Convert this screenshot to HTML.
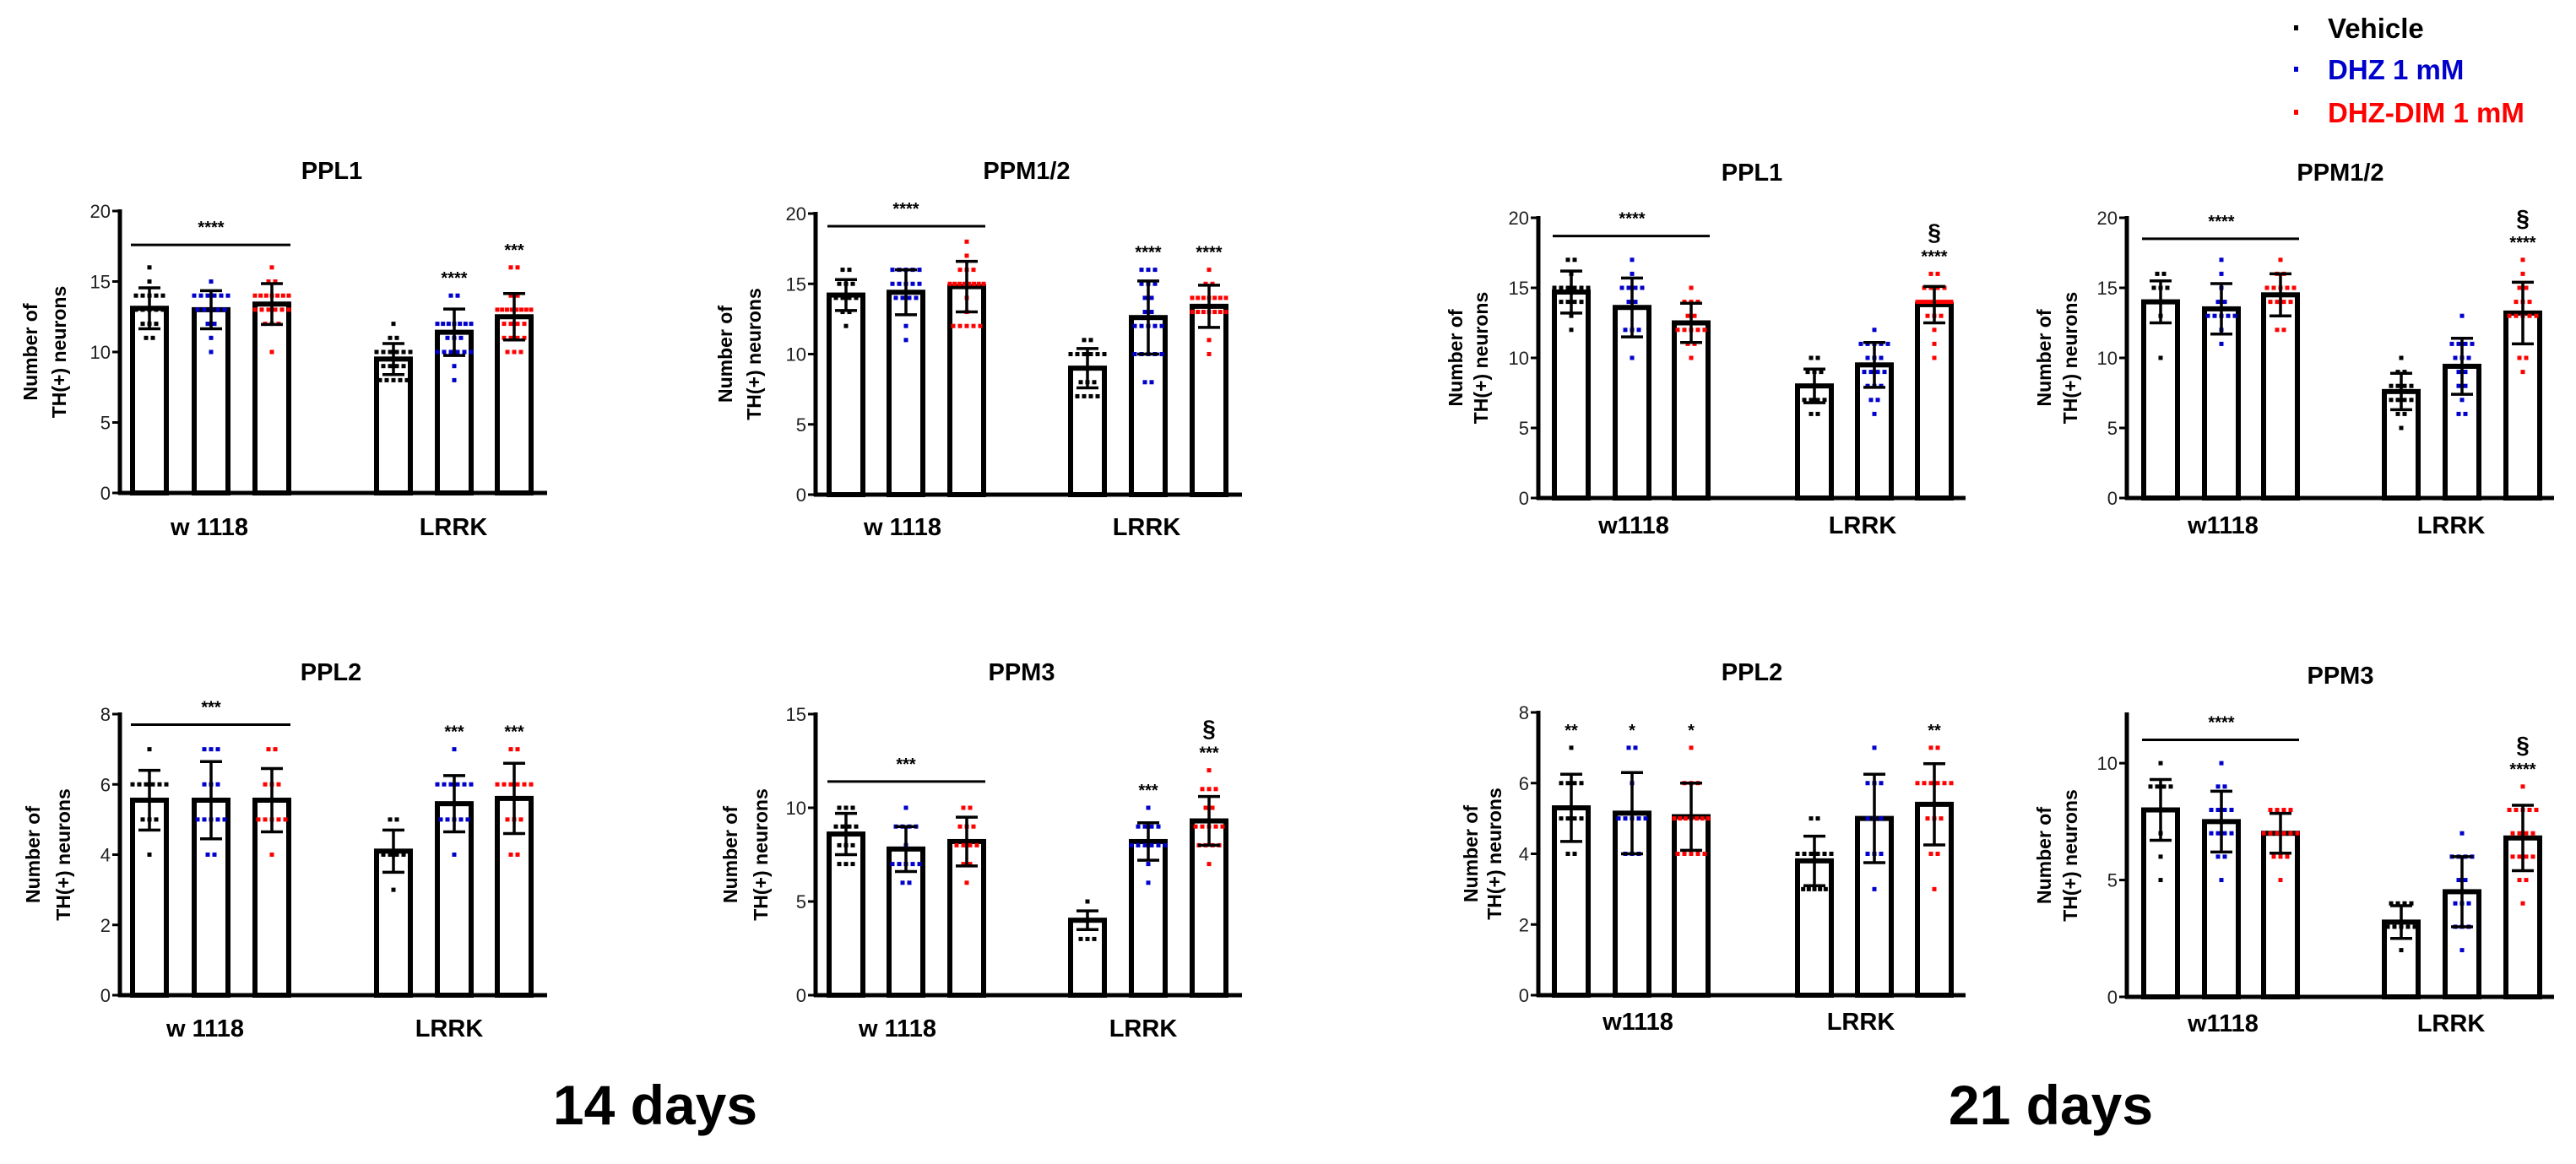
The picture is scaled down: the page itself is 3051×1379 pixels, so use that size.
<!DOCTYPE html>
<html><head><meta charset="utf-8"><style>
html,body{margin:0;padding:0;background:#fff;}
svg{display:block;font-family:"Liberation Sans",Arial,sans-serif;}
</style></head><body>
<svg id="fig" width="3051" height="1379" viewBox="0 0 3051 1379" xmlns="http://www.w3.org/2000/svg">
<rect width="3051" height="1379" fill="#fff"/>
<g font-weight="bold" font-size="33">
  <g><rect x="2717" y="30" width="5" height="6" fill="#000"/><text x="2757" y="45" fill="#000">Vehicle</text></g>
  <g><rect x="2717" y="79" width="5" height="6" fill="#0000cc"/><text x="2757" y="94" fill="#0000cc">DHZ 1 mM</text></g>
  <g><rect x="2717" y="130" width="5" height="6" fill="#ff0000"/><text x="2757" y="145" fill="#ff0000">DHZ-DIM 1 mM</text></g>
</g>
<text x="776" y="1332" text-anchor="middle" font-size="66" font-weight="bold">14 days</text>
<text x="2429" y="1332" text-anchor="middle" font-size="66" font-weight="bold">21 days</text>
</svg>
<script>
const groups = ["w 1118", "LRRK"];
const treatments = ["Vehicle", "DHZ 1 mM", "DHZ-DIM 1 mM"];
const colors = ["#000000", "#0000cc", "#ff0000"];

// 14 days PPL1
const a_means = [13.1, 13.0, 13.4, 9.5, 11.4, 12.5];
const a_sds = [1.45, 1.35, 1.45, 1.1, 1.65, 1.65];
const a_points = [[16,15,14,14,14,14,14,13,13,13,13,13,12,12,12,11,11],[15,14,14,14,14,14,14,13,13,13,13,13,12,12,11,10],[16,15,15,14,14,14,14,14,14,14,13,13,13,13,13,13,12,12,12,10],[12,11,11,10,10,10,10,10,10,9,9,9,9,9,9,8,8,8,8,8],[14,14,12,12,12,12,12,12,12,11,11,11,10,10,10,10,10,10,9,8],[16,16,14,14,13,13,13,13,13,13,13,13,12,12,12,12,11,11,11,11,10,10,10]];
const a_ticks = [0,5,10,15,20];
const a_stars = ["","","","","****","***"];
const a_sect = ["","","","","",""];
// 14 days PPM1/2
const b_means = [14.2, 14.4, 14.8, 9.0, 12.6, 13.4];
const b_sds = [1.1, 1.6, 1.8, 1.4, 2.6, 1.5];
const b_points = [[16,16,15,15,15,14,14,14,14,13,13,12],[16,16,16,16,16,15,15,15,15,15,14,14,14,14,12,11],[18,17,16,16,16,15,15,15,15,15,15,15,15,14,13,12,12,12,12,12],[11,11,10,10,10,10,10,10,9,8,8,8,7,7,7,7],[16,16,16,15,15,15,14,14,13,13,12,12,12,12,12,10,10,10,10,10,8,8],[16,15,15,14,14,14,14,14,14,14,13,13,13,13,13,13,13,11,10]];
const b_ticks = [0,5,10,15,20];
const b_stars = ["","","","","****","****"];
const b_sect = ["","","","","",""];
// 21 days PPL1
const c_means = [14.7, 13.6, 12.5, 8.0, 9.5, 13.8];
const c_sds = [1.5, 2.1, 1.4, 1.2, 1.6, 1.3];
const c_points = [[17,17,16,15,15,15,15,15,15,14,14,14,14,13,12],[17,16,15,15,15,15,14,14,12,12,12,10],[15,14,14,14,13,13,12,12,12,12,12,11,11,10],[10,10,9,9,9,8,8,8,8,8,8,7,7,7,7,6,6],[12,11,11,11,11,11,10,10,10,9,9,9,9,8,8,8,7,7,6],[16,16,15,15,15,15,14,14,14,14,14,14,14,14,14,13,13,13,12,11,10]];
const c_ticks = [0,5,10,15,20];
const c_stars = ["","","","","","****"];
const c_sect = ["","","","","","§"];
// 21 days PPM1/2
const d_means = [14.0, 13.5, 14.5, 7.6, 9.4, 13.2];
const d_sds = [1.5, 1.8, 1.5, 1.3, 2.0, 2.2];
const d_points = [[16,16,15,15,15,14,14,14,14,14,14,13,10],[17,16,15,14,14,13,13,13,13,13,12,11],[17,16,16,15,15,15,15,15,14,14,14,14,12,12],[10,9,9,8,8,8,8,7,7,7,7,6,6,5],[13,11,11,11,11,10,10,10,9,9,8,8,7,6,6],[17,16,15,15,14,14,14,13,13,13,13,13,10,10,9]];
const d_ticks = [0,5,10,15,20];
const d_stars = ["","","","","","****"];
const d_sect = ["","","","","","§"];
// 14 days PPL2
const e_means = [5.55, 5.55, 5.55, 4.1, 5.45, 5.6];
const e_sds = [0.85, 1.1, 0.9, 0.6, 0.8, 1.0];
const e_points = [[7,6,6,6,6,6,6,5,5,5,4],[7,7,7,6,6,6,5,5,5,5,5,4,4],[7,7,6,6,6,5,5,5,5,5,4],[5,5,4,4,4,4,4,4,3],[7,6,6,6,6,6,6,5,5,5,5,5,4],[7,7,6,6,6,6,6,6,5,5,5,4,4]];
const e_ticks = [0,2,4,6,8];
const e_stars = ["","","","","***","***"];
const e_sect = ["","","","","",""];
// 14 days PPM3
const f_means = [8.6, 7.8, 8.2, 4.0, 8.2, 9.3];
const f_sds = [1.1, 1.2, 1.3, 0.5, 1.0, 1.3];
const f_points = [[10,10,10,9,9,9,9,8,8,8,7,7,7],[10,9,9,9,9,8,7,7,7,7,7,6,6],[10,10,9,9,9,8,8,8,8,7,7,6],[5,4,4,4,4,4,4,3,3,3],[10,9,9,9,9,8,8,8,8,8,8,7,6],[12,11,11,11,10,10,9,9,9,9,9,8,8,8,8,7]];
const f_ticks = [0,5,10,15];
const f_stars = ["","","","","***","***"];
const f_sect = ["","","","","","§"];
// 21 days PPL2
const g_means = [5.3, 5.15, 5.05, 3.8, 5.0, 5.4];
const g_sds = [0.95, 1.15, 0.95, 0.7, 1.25, 1.15];
const g_points = [[7,6,6,6,6,5,5,5,5,4,4],[7,7,6,5,5,5,5,5,4,4,4],[7,6,6,6,5,5,5,5,5,5,5,4,4,4,4,4],[5,5,4,4,4,4,4,4,3,3,3,3,3,3,3],[7,6,6,6,5,5,5,4,4,4,3],[7,7,6,6,6,6,6,6,5,5,5,4,4,3]];
const g_ticks = [0,2,4,6,8];
const g_stars = ["**","*","*","","","**"];
const g_sect = ["","","","","",""];
// 21 days PPM3
const h_means = [8.0, 7.5, 7.0, 3.2, 4.5, 6.8];
const h_sds = [1.3, 1.3, 0.85, 0.7, 1.5, 1.4];
const h_points = [[10,9,9,9,9,8,8,8,8,8,8,7,6,5],[10,9,9,8,8,8,8,7,7,7,7,6,6,5],[8,8,8,8,7,7,7,7,7,7,6,6,6,5],[4,4,4,4,3,3,3,3,3,2],[7,6,6,6,6,5,5,4,4,4,3,3,3,2],[9,8,8,8,8,8,7,7,7,7,6,6,6,6,5,5,4]];
const h_ticks = [0,5,10];
const h_stars = ["","","","","","****"];
const h_sect = ["","","","","","§"];

const panelA = {key:"14d-ppl1",title:"PPL1",means:a_means,sds:a_sds,points:a_points,ticks:a_ticks,stars:a_stars,sect:a_sect,bracket:[17.6,"****"]};
const panelB = {key:"14d-ppm12",title:"PPM1/2",means:b_means,sds:b_sds,points:b_points,ticks:b_ticks,stars:b_stars,sect:b_sect,bracket:[19.1,"****"]};
const panelC = {key:"21d-ppl1",title:"PPL1",means:c_means,sds:c_sds,points:c_points,ticks:c_ticks,stars:c_stars,sect:c_sect,bracket:[18.7,"****"]};
const panelD = {key:"21d-ppm12",title:"PPM1/2",means:d_means,sds:d_sds,points:d_points,ticks:d_ticks,stars:d_stars,sect:d_sect,bracket:[18.5,"****"]};
const panelE = {key:"14d-ppl2",title:"PPL2",means:e_means,sds:e_sds,points:e_points,ticks:e_ticks,stars:e_stars,sect:e_sect,bracket:[7.7,"***"]};
const panelF = {key:"14d-ppm3",title:"PPM3",means:f_means,sds:f_sds,points:f_points,ticks:f_ticks,stars:f_stars,sect:f_sect,bracket:[11.4,"***"]};
const panelG = {key:"21d-ppl2",title:"PPL2",means:g_means,sds:g_sds,points:g_points,ticks:g_ticks,stars:g_stars,sect:g_sect,bracket:null};
const panelH = {key:"21d-ppm3",title:"PPM3",means:h_means,sds:h_sds,points:h_points,ticks:h_ticks,stars:h_stars,sect:h_sect,bracket:[11.0,"****"]};

// layout (pixels)
const L = [
 {p:panelA, ax:142, ytop:250, y0:584, vmax:20, off:[35,108,180,324,396,467], end:506, tx:393, ty:212, ly:634, lx:[248,537], yl:[38,72], grp:["w 1118","LRRK"]},
 {p:panelB, ax:966, ytop:253, y0:586, vmax:20, off:[36,107,179,322,394,466], end:505, tx:1216, ty:212, ly:634, lx:[1069,1358], yl:[861,895], grp:["w 1118","LRRK"]},
 {p:panelC, ax:1822, ytop:258, y0:590, vmax:20, off:[39,111,181,327,398,469], end:506, tx:2075, ty:214, ly:632, lx:[1935,2206], yl:[1726,1756], grp:["w1118","LRRK"]},
 {p:panelD, ax:2519, ytop:258, y0:590, vmax:20, off:[40,112,182,325,397,469], end:506, tx:2772, ty:214, ly:632, lx:[2633,2903], yl:[2423,2454], grp:["w1118","LRRK"]},
 {p:panelE, ax:142, ytop:846, y0:1179, vmax:8, off:[35,108,180,324,396,467], end:506, tx:392, ty:806, ly:1228, lx:[243,532], yl:[41,77], grp:["w 1118","LRRK"]},
 {p:panelF, ax:966, ytop:846, y0:1179, vmax:15, off:[36,107,179,322,394,466], end:505, tx:1210, ty:806, ly:1228, lx:[1063,1354], yl:[867,903], grp:["w 1118","LRRK"]},
 {p:panelG, ax:1822, ytop:844, y0:1179, vmax:8, off:[39,111,181,327,398,469], end:506, tx:2075, ty:806, ly:1220, lx:[1940,2204], yl:[1744,1772], grp:["w1118","LRRK"]},
 {p:panelH, ax:2519, ytop:846, y0:1181, vmax:12.1, off:[40,112,182,325,397,469], end:506, tx:2772, ty:810, ly:1222, lx:[2633,2903], yl:[2423,2454], grp:["w1118","LRRK"]}
];

const NS = "http://www.w3.org/2000/svg";
const svg = document.getElementById("fig");
function mk(tag, attrs, parent){ const e=document.createElementNS(NS,tag); for(const k in attrs) e.setAttribute(k,attrs[k]); parent.appendChild(e); return e; }

L.forEach(cfg => {
  const p = cfg.p;
  const g = mk("g", {}, svg);
  
  
  const y = v => cfg.y0 - (v / cfg.vmax) * (cfg.y0 - cfg.ytop);
  const bx = i => cfg.ax + cfg.off[i];
  // title
  const t = mk("text", {x:cfg.tx, y:cfg.ty, "text-anchor":"middle", "font-size":"29", "font-weight":"bold"}, g);
  t.textContent = p.title;
  
  
  // y label
  const yc = (cfg.ytop + cfg.y0) / 2;
  const yl1 = mk("text", {x:cfg.yl[0], y:yc, "text-anchor":"middle", "font-size":"23", "font-weight":"bold", transform:`rotate(-90 ${cfg.yl[0]} ${yc})`, "dominant-baseline":"middle"}, g);
  yl1.textContent = "Number of";
  
  
  const yl2 = mk("text", {x:cfg.yl[1], y:yc, "text-anchor":"middle", "font-size":"23", "font-weight":"bold", transform:`rotate(-90 ${cfg.yl[1]} ${yc})`, "dominant-baseline":"middle"}, g);
  yl2.textContent = "TH(+) neurons";
  
  
  // bars
  p.means.forEach((m, i) => {
    const r = mk("rect", {x:bx(i)-20, y:y(m), width:40, height:cfg.y0 - y(m), fill:"#fff", stroke:"#000", "stroke-width":"6"}, g);
    
    
  });
  // points
  p.points.forEach((arr, i) => {
    const counts = {};
    arr.forEach(v => counts[v] = (counts[v] || 0) + 1);
    const seen = {};
    arr.forEach(v => {
      const n = counts[v]; const k = seen[v] = (seen[v] || 0) + 1;
      const sp = Math.min(8, 40 / Math.max(n - 1, 1));
      const cx = bx(i) + (k - 1 - (n - 1) / 2) * sp;
      const d = mk("rect", {x:cx-2.5, y:y(v)-2.5, width:5, height:5, fill:colors[i % 3]}, g);
      
      
    });
  });
  // error bars
  p.means.forEach((m, i) => {
    const x = bx(i), hi = y(m + p.sds[i]), lo = y(m - p.sds[i]);
    const eb = mk("path", {d:`M${x} ${hi}V${lo}M${x-13} ${hi}H${x+13}M${x-13} ${lo}H${x+13}`, stroke:"#000", "stroke-width":"3.5", fill:"none"}, g);
    
    
  });
  // stars above bars
  p.means.forEach((m, i) => {
    const top = Math.max(...p.points[i]);
    if (p.stars[i]) {
      const s = mk("text", {x:bx(i), y:y(top) - 14, "text-anchor":"middle", "font-size":"20", "font-weight":"bold"}, g);
      s.textContent = p.stars[i];
      
      
    }
    if (p.sect[i]) {
      const s = mk("text", {x:bx(i), y:y(top) - 40, "text-anchor":"middle", "font-size":"28", "font-weight":"bold"}, g);
      s.textContent = p.sect[i];
      
      
    }
  });
  // bracket
  if (p.bracket) {
    const by = y(p.bracket[0]);
    const br = mk("line", {x1:bx(0)-22, x2:bx(2)+22, y1:by, y2:by, stroke:"#000", "stroke-width":"3"}, g);
    
    
    const bs = mk("text", {x:bx(1), y:by - 14, "text-anchor":"middle", "font-size":"20", "font-weight":"bold"}, g);
    bs.textContent = p.bracket[1];
    
    
  }
  // axes
  const ya = mk("line", {x1:cfg.ax, x2:cfg.ax, y1:cfg.ytop - 2, y2:cfg.y0 + 2, stroke:"#000", "stroke-width":"5"}, g);
  
  
  const xa = mk("line", {x1:cfg.ax - 2, x2:cfg.ax + cfg.end, y1:cfg.y0, y2:cfg.y0, stroke:"#000", "stroke-width":"5"}, g);
  
  
  p.ticks.forEach(tv => {
    const ty = y(tv);
    const tk = mk("line", {x1:cfg.ax - 9, x2:cfg.ax, y1:ty, y2:ty, stroke:"#000", "stroke-width":"3"}, g);
    
    
    const tl = mk("text", {x:cfg.ax - 11, y:ty + 8, "text-anchor":"end", "font-size":"22", fill:"#222"}, g);
    tl.textContent = tv;
    
    
  });
  cfg.grp.forEach((gn, j) => {
    const xl = mk("text", {x:cfg.lx[j], y:cfg.ly, "text-anchor":"middle", "font-size":"29", "font-weight":"bold"}, g);
    xl.textContent = gn;
    
    
  });
});
</script>
</body></html>
